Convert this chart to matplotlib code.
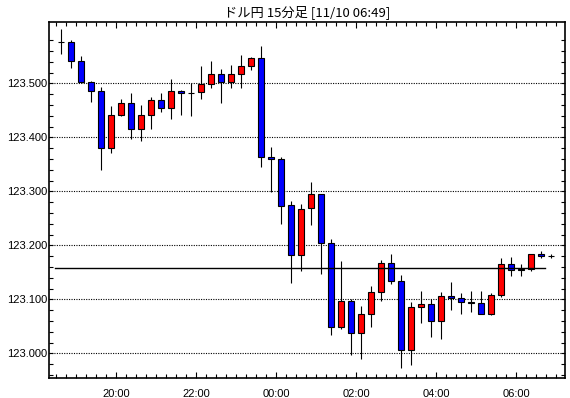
import numpy as np
import matplotlib
matplotlib.use('Agg')
import matplotlib.pyplot as plt
from matplotlib.ticker import FormatStrFormatter, FixedLocator, MultipleLocator

# USD/JPY 15 minute candles, 18:30 -> 06:45
opens  = [123.576, 123.576, 123.542, 123.503, 123.486, 123.380, 123.441, 123.463, 123.415, 123.441,
          123.469, 123.454, 123.486, 123.483, 123.484, 123.499, 123.518, 123.502, 123.518, 123.532,
          123.547, 123.363, 123.360, 123.274, 123.182, 123.269, 123.295, 123.204, 123.049, 123.097,
          123.037, 123.073, 123.113, 123.167, 123.134, 123.006, 123.086, 123.091, 123.060, 123.106,
          123.102, 123.095, 123.093, 123.073, 123.108, 123.165, 123.156, 123.157, 123.184, 123.180]
highs  = [123.600, 123.580, 123.551, 123.504, 123.493, 123.458, 123.471, 123.483, 123.460, 123.474,
          123.482, 123.508, 123.488, 123.500, 123.532, 123.542, 123.527, 123.534, 123.553, 123.549,
          123.569, 123.382, 123.364, 123.282, 123.277, 123.318, 123.295, 123.212, 123.171, 123.100,
          123.087, 123.125, 123.173, 123.184, 123.145, 123.095, 123.116, 123.100, 123.113, 123.132,
          123.111, 123.116, 123.116, 123.112, 123.177, 123.178, 123.165, 123.184, 123.189, 123.184]
lows   = [123.554, 123.529, 123.500, 123.466, 123.340, 123.371, 123.439, 123.397, 123.394, 123.415,
          123.448, 123.435, 123.442, 123.440, 123.471, 123.492, 123.463, 123.492, 123.492, 123.524,
          123.346, 123.298, 123.240, 123.130, 123.153, 123.237, 123.147, 123.034, 123.045, 122.997,
          122.989, 123.048, 123.096, 123.129, 122.972, 122.978, 123.057, 123.031, 123.026, 123.081,
          123.072, 123.076, 123.073, 123.071, 123.105, 123.143, 123.143, 123.152, 123.176, 123.176]
closes = [123.576, 123.542, 123.503, 123.486, 123.380, 123.441, 123.463, 123.415, 123.441, 123.469,
          123.454, 123.486, 123.482, 123.482, 123.499, 123.518, 123.502, 123.518, 123.532, 123.547,
          123.363, 123.360, 123.273, 123.182, 123.267, 123.295, 123.204, 123.049, 123.097, 123.037,
          123.073, 123.113, 123.167, 123.134, 123.006, 123.086, 123.091, 123.060, 123.106, 123.102,
          123.095, 123.094, 123.073, 123.108, 123.165, 123.154, 123.154, 123.184, 123.180, 123.180]
ref_price = 123.158

price_ticks = [123.0, 123.1, 123.2, 123.3, 123.4, 123.5]
tick_labels = ['20:00', '22:00', '00:00', '02:00', '04:00', '06:00']
title = 'ドル円 15分足 [11/10 06:49]'

o = np.array(opens)
h = np.array(highs)
l = np.array(lows)
c = np.array(closes)
# slot positions, 20:00 slot starts at 0, first candle is 18:30 (6 slots earlier)
x = np.arange(len(o)) - 6 + 0.5
colors = np.where(c > o, '#ff0000', '#0000ff')

fig = plt.figure(figsize=(5.7, 3.98), dpi=100)
ax = fig.add_axes([49/570, 20.3/398, 516/570, 355.4/398])

ax.vlines(x, l, h, color='black', linewidth=0.8, zorder=2)
ax.bar(x, np.abs(c - o), bottom=np.minimum(o, c), width=0.64, color=colors,
       edgecolor='black', linewidth=0.8, zorder=3)

ax.axhline(ref_price, xmin=6/516, xmax=496/516, color='black', linewidth=1.0, zorder=4)

ax.set_xlim(-6.7, 44.9)
ax.set_ylim(122.9548, 123.6133)

# minor price ticks every 0.02, skipping the majors and the unlabeled 123.600
minor_y = [v for v in np.round(np.arange(122.96, 123.60, 0.02), 2)
           if round(v * 10) / 10 != v]
ax.yaxis.set_major_locator(FixedLocator(price_ticks))
ax.yaxis.set_minor_locator(FixedLocator(minor_y))
ax.yaxis.set_major_formatter(FormatStrFormatter('%.3f'))
ax.xaxis.set_major_locator(FixedLocator([0, 8, 16, 24, 32, 40]))
ax.set_xticklabels(tick_labels)
ax.xaxis.set_minor_locator(MultipleLocator(1))

ax.grid(axis='y', which='major', color='black', linestyle=(0, (1, 1.2)), linewidth=0.8, zorder=1)
ax.set_axisbelow(True)

ax.tick_params(which='both', direction='in', top=True, right=True, colors='black')
ax.tick_params(axis='x', which='major', length=4.5, width=0.8, pad=8, labelsize=8)
ax.tick_params(axis='x', which='minor', length=2.6, width=0.8)
ax.tick_params(axis='y', which='major', length=3, width=0.8, pad=1.5, labelsize=8)
ax.tick_params(axis='y', which='minor', length=3, width=0.8)
for lab in ax.get_xticklabels() + ax.get_yticklabels():
    lab.set_family('Liberation Sans')

for sp in ax.spines.values():
    sp.set_linewidth(1.2)

fig.text((49 + 565) / 2 / 570, 1 - 12/398, title, ha='center', va='center',
         fontsize=9.5, family=['Noto Sans CJK JP', 'DejaVu Sans'])

fig.savefig('out.png', dpi=100)
